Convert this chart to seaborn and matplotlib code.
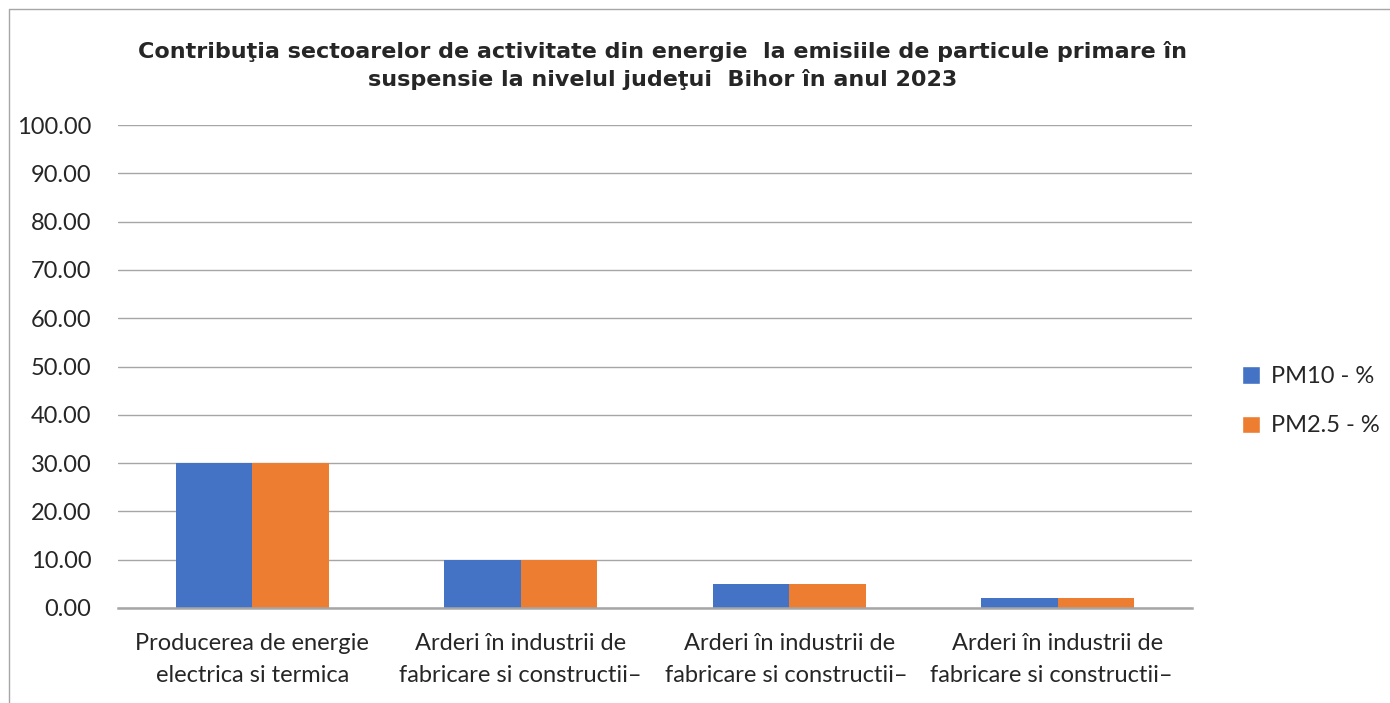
import pandas as pd
import seaborn as sns
import matplotlib.pyplot as plt
from matplotlib.lines import Line2D
from matplotlib.patches import Patch

# Data
categories = [
    "Producerea de energie\nelectrica si termica",
    "Arderi în industrii de\nfabricare si constructii–",
    "Arderi în industrii de\nfabricare si constructii– ",
    "Arderi în industrii de\nfabricare si constructii–  ",
]
pm10 = [30.0, 10.0, 5.0, 2.0]
pm25 = [30.0, 10.0, 5.0, 2.0]
series = ["PM10 - %", "PM2.5 - %"]
colors = ["#4472C4", "#ED7D31"]
yticks = [0, 10, 20, 30, 40, 50, 60, 70, 80, 90, 100]

df = pd.DataFrame({
    "sector": categories * 2,
    "serie": [series[0]] * len(categories) + [series[1]] * len(categories),
    "value": pm10 + pm25,
})

sns.set_style("white")
plt.rcParams['font.family'] = ['Lato', 'DejaVu Sans']

fig = plt.figure(figsize=(13.9, 7.03), dpi=100)
ax = fig.add_axes([118 / 1390, 1 - 608 / 703, (1192 - 118) / 1390, (608 - 125) / 703])

sns.barplot(data=df, x="sector", y="value", hue="serie", palette=colors,
            width=0.57, ax=ax, legend=False, saturation=1, linewidth=0)

ax.set_ylim(0, 100)
ax.set_yticks(yticks)
ax.set_yticklabels([f"{v:.2f}" for v in yticks], fontsize=17)
ax.set_xticks(range(len(categories)))
ax.set_xticklabels(categories, fontsize=17, linespacing=1.65)
ax.tick_params(axis='both', length=0)
ax.tick_params(axis='y', pad=19)
ax.tick_params(axis='x', pad=18)
ax.set_xlabel("")
ax.set_ylabel("")
ax.yaxis.grid(True, color="#A6A6A6", linewidth=1)
ax.set_axisbelow(True)
for side in ["left", "right", "top"]:
    ax.spines[side].set_visible(False)
ax.spines["bottom"].set_color("#A6A6A6")
ax.spines["bottom"].set_linewidth(1.8)

fig.text(0.4765, 0.907,
         "Contribuţia sectoarelor de activitate din energie  la emisiile de particule primare în\n"
         "suspensie la nivelul judeţui  Bihor în anul 2023",
         ha="center", va="center", fontsize=16.0, fontweight="bold",
         family=["DejaVu Sans"], linespacing=1.45)

handles = [Patch(facecolor=c) for c in colors]
ax.legend(handles, series, loc="center left", bbox_to_anchor=(1.027, 0.428),
          frameon=False, fontsize=17, handlelength=0.75, handleheight=0.75,
          handletextpad=0.45, labelspacing=1.2)

# outer chart border (partially visible in the reference)
fig.add_artist(Line2D([9 / 1390, 9 / 1390], [0, 1 - 9 / 703], color="#A6A6A6", linewidth=1))
fig.add_artist(Line2D([9 / 1390, 1], [1 - 9 / 703, 1 - 9 / 703], color="#A6A6A6", linewidth=1))

fig.savefig("out.png", dpi=100)
